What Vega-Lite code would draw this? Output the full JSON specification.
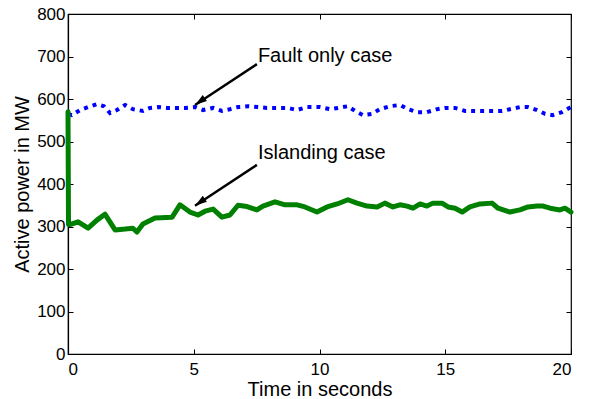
{
  "$schema": "https://vega.github.io/schema/vega-lite/v6.json",
  "width": 503,
  "height": 340,
  "autosize": {"type": "none"},
  "padding": {"left": 68, "top": 14, "right": 18, "bottom": 45},
  "background": "white",
  "config": {
    "font": "Liberation Sans",
    "view": {"stroke": "black", "strokeWidth": 1.2},
    "axis": {
      "grid": false,
      "domainColor": "black",
      "domainWidth": 1.2,
      "tickColor": "black",
      "tickWidth": 1,
      "tickSize": -5,
      "labelColor": "black",
      "labelFont": "Liberation Sans",
      "labelFontSize": 17,
      "titleColor": "black",
      "titleFont": "Liberation Sans",
      "titleFontSize": 20,
      "titleFontWeight": "normal"
    }
  },
  "datasets": {
    "power": [
      {"t": 0.0, "mw": 565, "series": "Fault only case"},
      {"t": 0.15, "mw": 562, "series": "Fault only case"},
      {"t": 0.48, "mw": 574, "series": "Fault only case"},
      {"t": 0.80, "mw": 581, "series": "Fault only case"},
      {"t": 1.15, "mw": 588, "series": "Fault only case"},
      {"t": 1.43, "mw": 583, "series": "Fault only case"},
      {"t": 1.67, "mw": 567, "series": "Fault only case"},
      {"t": 1.95, "mw": 574, "series": "Fault only case"},
      {"t": 2.27, "mw": 586, "series": "Fault only case"},
      {"t": 2.58, "mw": 576, "series": "Fault only case"},
      {"t": 2.98, "mw": 572, "series": "Fault only case"},
      {"t": 3.26, "mw": 579, "series": "Fault only case"},
      {"t": 3.58, "mw": 581, "series": "Fault only case"},
      {"t": 3.94, "mw": 579, "series": "Fault only case"},
      {"t": 4.33, "mw": 579, "series": "Fault only case"},
      {"t": 4.65, "mw": 579, "series": "Fault only case"},
      {"t": 5.05, "mw": 581, "series": "Fault only case"},
      {"t": 5.37, "mw": 574, "series": "Fault only case"},
      {"t": 5.77, "mw": 579, "series": "Fault only case"},
      {"t": 6.12, "mw": 572, "series": "Fault only case"},
      {"t": 6.44, "mw": 576, "series": "Fault only case"},
      {"t": 6.76, "mw": 581, "series": "Fault only case"},
      {"t": 7.16, "mw": 583, "series": "Fault only case"},
      {"t": 7.55, "mw": 581, "series": "Fault only case"},
      {"t": 7.91, "mw": 579, "series": "Fault only case"},
      {"t": 8.35, "mw": 579, "series": "Fault only case"},
      {"t": 8.75, "mw": 579, "series": "Fault only case"},
      {"t": 9.10, "mw": 574, "series": "Fault only case"},
      {"t": 9.50, "mw": 581, "series": "Fault only case"},
      {"t": 10.02, "mw": 581, "series": "Fault only case"},
      {"t": 10.42, "mw": 576, "series": "Fault only case"},
      {"t": 10.74, "mw": 579, "series": "Fault only case"},
      {"t": 11.13, "mw": 583, "series": "Fault only case"},
      {"t": 11.41, "mw": 572, "series": "Fault only case"},
      {"t": 11.73, "mw": 562, "series": "Fault only case"},
      {"t": 12.09, "mw": 565, "series": "Fault only case"},
      {"t": 12.40, "mw": 576, "series": "Fault only case"},
      {"t": 12.80, "mw": 583, "series": "Fault only case"},
      {"t": 13.20, "mw": 586, "series": "Fault only case"},
      {"t": 13.52, "mw": 576, "series": "Fault only case"},
      {"t": 13.88, "mw": 569, "series": "Fault only case"},
      {"t": 14.27, "mw": 569, "series": "Fault only case"},
      {"t": 14.67, "mw": 576, "series": "Fault only case"},
      {"t": 14.99, "mw": 579, "series": "Fault only case"},
      {"t": 15.39, "mw": 579, "series": "Fault only case"},
      {"t": 15.79, "mw": 572, "series": "Fault only case"},
      {"t": 16.10, "mw": 572, "series": "Fault only case"},
      {"t": 16.46, "mw": 572, "series": "Fault only case"},
      {"t": 16.86, "mw": 572, "series": "Fault only case"},
      {"t": 17.26, "mw": 572, "series": "Fault only case"},
      {"t": 17.57, "mw": 576, "series": "Fault only case"},
      {"t": 17.97, "mw": 581, "series": "Fault only case"},
      {"t": 18.29, "mw": 581, "series": "Fault only case"},
      {"t": 18.65, "mw": 574, "series": "Fault only case"},
      {"t": 18.97, "mw": 565, "series": "Fault only case"},
      {"t": 19.28, "mw": 562, "series": "Fault only case"},
      {"t": 19.64, "mw": 569, "series": "Fault only case"},
      {"t": 20.0, "mw": 581, "series": "Fault only case"},
      {"t": 0.0, "mw": 570, "series": "Islanding case"},
      {"t": 0.02, "mw": 305, "series": "Islanding case"},
      {"t": 0.10, "mw": 305, "series": "Islanding case"},
      {"t": 0.40, "mw": 311, "series": "Islanding case"},
      {"t": 0.80, "mw": 296, "series": "Islanding case"},
      {"t": 1.15, "mw": 315, "series": "Islanding case"},
      {"t": 1.47, "mw": 329, "series": "Islanding case"},
      {"t": 1.87, "mw": 292, "series": "Islanding case"},
      {"t": 2.27, "mw": 294, "series": "Islanding case"},
      {"t": 2.58, "mw": 296, "series": "Islanding case"},
      {"t": 2.74, "mw": 287, "series": "Islanding case"},
      {"t": 2.98, "mw": 306, "series": "Islanding case"},
      {"t": 3.46, "mw": 320, "series": "Islanding case"},
      {"t": 4.14, "mw": 322, "series": "Islanding case"},
      {"t": 4.45, "mw": 351, "series": "Islanding case"},
      {"t": 4.85, "mw": 334, "series": "Islanding case"},
      {"t": 5.17, "mw": 327, "series": "Islanding case"},
      {"t": 5.45, "mw": 336, "series": "Islanding case"},
      {"t": 5.77, "mw": 341, "series": "Islanding case"},
      {"t": 6.12, "mw": 322, "series": "Islanding case"},
      {"t": 6.44, "mw": 327, "series": "Islanding case"},
      {"t": 6.76, "mw": 350, "series": "Islanding case"},
      {"t": 7.12, "mw": 347, "series": "Islanding case"},
      {"t": 7.51, "mw": 339, "series": "Islanding case"},
      {"t": 7.75, "mw": 348, "series": "Islanding case"},
      {"t": 8.23, "mw": 358, "series": "Islanding case"},
      {"t": 8.63, "mw": 351, "series": "Islanding case"},
      {"t": 9.11, "mw": 351, "series": "Islanding case"},
      {"t": 9.42, "mw": 346, "series": "Islanding case"},
      {"t": 9.90, "mw": 334, "series": "Islanding case"},
      {"t": 10.30, "mw": 346, "series": "Islanding case"},
      {"t": 10.70, "mw": 353, "series": "Islanding case"},
      {"t": 11.13, "mw": 363, "series": "Islanding case"},
      {"t": 11.49, "mw": 355, "series": "Islanding case"},
      {"t": 11.89, "mw": 348, "series": "Islanding case"},
      {"t": 12.29, "mw": 346, "series": "Islanding case"},
      {"t": 12.60, "mw": 355, "series": "Islanding case"},
      {"t": 12.92, "mw": 346, "series": "Islanding case"},
      {"t": 13.20, "mw": 351, "series": "Islanding case"},
      {"t": 13.48, "mw": 348, "series": "Islanding case"},
      {"t": 13.72, "mw": 343, "series": "Islanding case"},
      {"t": 14.00, "mw": 353, "series": "Islanding case"},
      {"t": 14.27, "mw": 348, "series": "Islanding case"},
      {"t": 14.51, "mw": 355, "series": "Islanding case"},
      {"t": 14.87, "mw": 355, "series": "Islanding case"},
      {"t": 15.11, "mw": 346, "series": "Islanding case"},
      {"t": 15.39, "mw": 343, "series": "Islanding case"},
      {"t": 15.67, "mw": 334, "series": "Islanding case"},
      {"t": 15.98, "mw": 346, "series": "Islanding case"},
      {"t": 16.38, "mw": 353, "series": "Islanding case"},
      {"t": 16.86, "mw": 355, "series": "Islanding case"},
      {"t": 17.10, "mw": 343, "series": "Islanding case"},
      {"t": 17.57, "mw": 334, "series": "Islanding case"},
      {"t": 17.97, "mw": 339, "series": "Islanding case"},
      {"t": 18.29, "mw": 346, "series": "Islanding case"},
      {"t": 18.65, "mw": 348, "series": "Islanding case"},
      {"t": 18.89, "mw": 348, "series": "Islanding case"},
      {"t": 19.17, "mw": 343, "series": "Islanding case"},
      {"t": 19.56, "mw": 339, "series": "Islanding case"},
      {"t": 19.76, "mw": 343, "series": "Islanding case"},
      {"t": 20.0, "mw": 334, "series": "Islanding case"}
    ],
    "notes": [
      {"label": "Fault only case", "tx": 7.55, "ty": 687, "x0": 7.51, "y0": 682, "x1": 5.05, "y1": 586},
      {"label": "Islanding case", "tx": 7.55, "ty": 459, "x0": 7.51, "y0": 445, "x1": 5.05, "y1": 349}
    ]
  },
  "layer": [
    {
      "data": {"name": "power"},
      "transform": [{"filter": "datum.series === 'Fault only case'"}],
      "mark": {"type": "line", "color": "#0000ff", "strokeWidth": 4, "strokeDash": [4, 5], "strokeCap": "butt"},
      "encoding": {
        "x": {"field": "t", "type": "quantitative", "scale": {"domain": [0, 20], "nice": false},
              "axis": {"orient": "bottom", "values": [0, 5, 10, 15, 20], "format": "d", "title": "Time in seconds", "labelPadding": 12, "titlePadding": 2}},
        "y": {"field": "mw", "type": "quantitative", "scale": {"domain": [0, 800], "nice": false, "zero": false},
              "axis": {"orient": "left", "values": [0, 100, 200, 300, 400, 500, 600, 700, 800], "title": "Active power in MW", "labelPadding": 8, "titlePadding": 4}}
      }
    },
    {
      "data": {"name": "power"},
      "transform": [{"filter": "datum.series === 'Islanding case'"}],
      "mark": {"type": "line", "color": "#008000", "strokeWidth": 5, "strokeJoin": "round", "strokeCap": "round"},
      "encoding": {
        "x": {"field": "t", "type": "quantitative",
              "axis": {"orient": "top", "values": [0, 5, 10, 15, 20], "labels": false, "domain": false, "title": null}},
        "y": {"field": "mw", "type": "quantitative",
              "axis": {"orient": "right", "values": [0, 100, 200, 300, 400, 500, 600, 700, 800], "labels": false, "domain": false, "title": null}}
      }
    },
    {
      "data": {"name": "notes"},
      "mark": {"type": "rule", "color": "black", "strokeWidth": 2.5},
      "encoding": {
        "x": {"field": "x0", "type": "quantitative", "axis": null},
        "y": {"field": "y0", "type": "quantitative", "axis": null},
        "x2": {"field": "x1"},
        "y2": {"field": "y1"}
      }
    },
    {
      "data": {"name": "notes"},
      "mark": {"type": "point", "shape": "M0,0L0.6,2L-0.6,2Z", "size": 144, "filled": true, "color": "black", "opacity": 1, "angle": 235},
      "encoding": {
        "x": {"field": "x1", "type": "quantitative", "axis": null},
        "y": {"field": "y1", "type": "quantitative", "axis": null}
      }
    },
    {
      "data": {"name": "notes"},
      "mark": {"type": "text", "align": "left", "baseline": "alphabetic", "fontSize": 20, "color": "black", "font": "Liberation Sans"},
      "encoding": {
        "x": {"field": "tx", "type": "quantitative", "axis": null},
        "y": {"field": "ty", "type": "quantitative", "axis": null},
        "text": {"field": "label"}
      }
    }
  ],
  "resolve": {"axis": {"x": "independent", "y": "independent"}}
}
